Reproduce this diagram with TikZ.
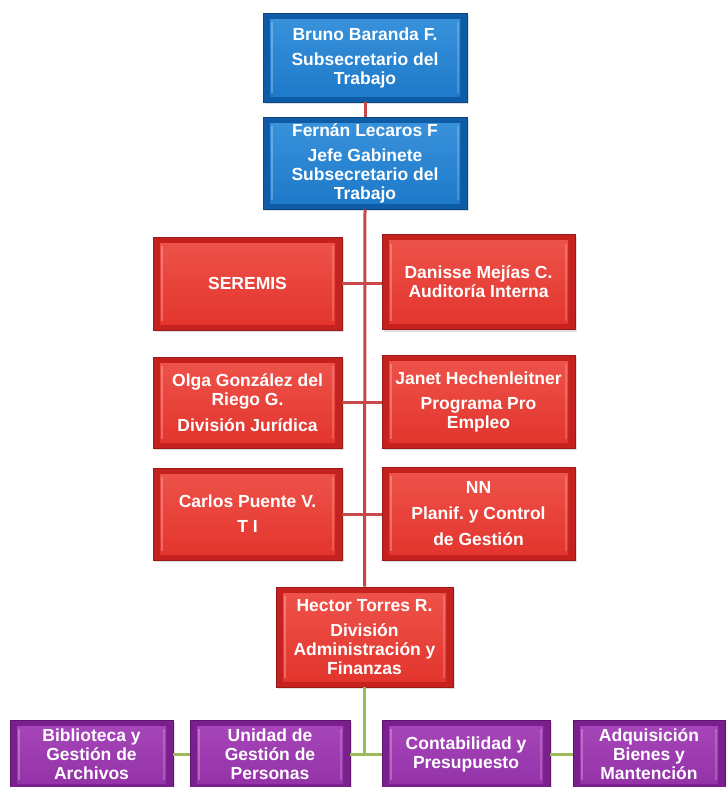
\documentclass[tikz,border=0pt]{standalone}
\usepackage{fontspec}
\setmainfont{Liberation Sans}
\usetikzlibrary{shadows}
\frenchspacing
\definecolor{blueface}{HTML}{1C78C8}
\definecolor{bluetop}{HTML}{3A93DC}
\definecolor{blueedge}{HTML}{0E5CA6}
\definecolor{blueline}{HTML}{0A4684}
\definecolor{redface}{HTML}{E2332C}
\definecolor{redtop}{HTML}{EE544B}
\definecolor{rededge}{HTML}{C5221F}
\definecolor{redline}{HTML}{9A1A17}
\definecolor{purface}{HTML}{9330A6}
\definecolor{purtop}{HTML}{A748BA}
\definecolor{puredge}{HTML}{7B1F8E}
\definecolor{purline}{HTML}{5E166D}
\definecolor{conred}{HTML}{C8474A}
\definecolor{congreen}{HTML}{9BBB59}
\tikzset{
  orgbox/.style n args={4}{
    draw=#4, line width=0.8pt, fill=#3, inner sep=0pt,
    align=center, text=white,
    font=\fontsize{17.5}{19}\selectfont\bfseries,
    drop shadow={opacity=0.25, shadow xshift=2pt, shadow yshift=-2pt},
    path picture={
      \fill[top color=#2, bottom color=#1]
        ([shift={(7pt,6pt)}]path picture bounding box.south west)
        rectangle ([shift={(-7pt,-6pt)}]path picture bounding box.north east);
      \draw[white, opacity=0.25, line width=1.2pt]
        ([shift={(9pt,9pt)}]path picture bounding box.south west)
        -- ([shift={(9pt,-9pt)}]path picture bounding box.north west);
      \draw[white, opacity=0.18, line width=1.2pt]
        ([shift={(-9pt,9pt)}]path picture bounding box.south east)
        -- ([shift={(-9pt,-9pt)}]path picture bounding box.north east);
    }},
  bluebox/.style={orgbox={blueface}{bluetop}{blueedge}{blueline}},
  redbox/.style={orgbox={redface}{redtop}{rededge}{redline}},
  purbox/.style={orgbox={purface}{purtop}{puredge}{purline}},
  redcon/.style={draw=conred, line width=3pt},
  greencon/.style={draw=congreen, line width=3pt},
}
\begin{document}
\begin{tikzpicture}[x=1pt,y=-1pt]
\path[use as bounding box, clip] (0,0) rectangle (726,787);
\fill[white] (0,0) rectangle (726,787);
% nodes
\node[bluebox, minimum width=204, minimum height=89] (bruno) at (365,57.5)
  {Bruno Baranda F.\\[6pt]Subsecretario del\\Trabajo};
\node[bluebox, minimum width=204, minimum height=92] (fernan) at (365,163)
  {Fernán Lecaros F\\[6pt]Jefe Gabinete\\Subsecretario del\\Trabajo};
\node[redbox, minimum width=189, minimum height=93] (seremis) at (247.5,283.5)
  {SEREMIS};
\node[redbox, minimum width=193, minimum height=95] (danisse) at (478.5,282)
  {Danisse Mejías C.\\Auditoría Interna};
\node[redbox, minimum width=189, minimum height=91] (olga) at (247.5,402.5)
  {Olga González del\\Riego G.\\[7pt]División Jurídica};
\node[redbox, minimum width=193, minimum height=93] (janet) at (478.5,401.5)
  {Janet Hechenleitner\\[6pt]Programa Pro\\Empleo};
\node[redbox, minimum width=189, minimum height=92] (carlos) at (247.5,514)
  {Carlos Puente V.\\[6pt]T I};
\node[redbox, minimum width=193, minimum height=93] (nn) at (478.5,513.5)
  {NN\\[7pt]Planif. y Control\\[7pt]de Gestión};
\node[redbox, minimum width=177, minimum height=100] (hector) at (364.5,637)
  {Hector Torres R.\\[6pt]División\\Administración y\\Finanzas};
\node[purbox, minimum width=163, minimum height=69] (bib) at (91.5,754.5)
  {Biblioteca y\\Gestión de\\Archivos};
\node[purbox, minimum width=160, minimum height=69] (uni) at (270,754.5)
  {Unidad de\\Gestión de\\Personas};
\node[purbox, minimum width=168, minimum height=69] (cont) at (466,754.5)
  {Contabilidad y\\Presupuesto};
\node[purbox, minimum width=152, minimum height=69] (adq) at (649,754.5)
  {Adquisición\\Bienes y\\Mantención};
\coordinate (gj) at (hector.south |- cont.west);
% connectors
\draw[redcon] (bruno) -- (fernan);
\draw[redcon] (fernan.south) -- (hector.north);
\draw[redcon] (seremis.east) -- (seremis.east -| danisse.west);
\draw[redcon] (olga.east) -- (olga.east -| janet.west);
\draw[redcon] (carlos.east) -- (carlos.east -| nn.west);
\draw[greencon] (hector.south) -- (gj);
\draw[greencon] (bib) -- (uni);
\draw[greencon] (uni) -- (cont);
\draw[greencon] (cont) -- (adq);
\end{tikzpicture}
\end{document}
